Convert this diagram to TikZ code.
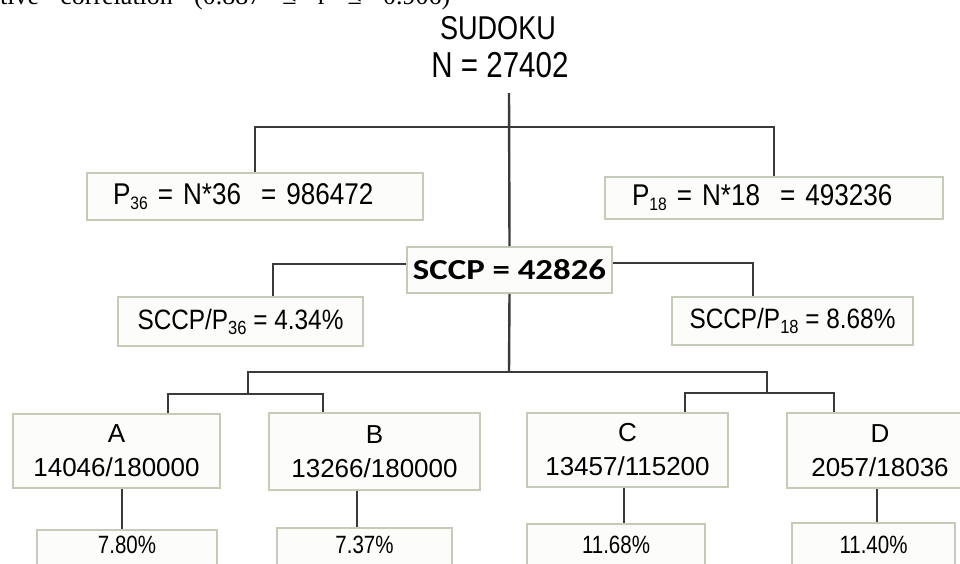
\documentclass[tikz,border=0pt]{standalone}
\usepackage{fontspec}
\setmainfont{Liberation Sans}
\newfontfamily\narrowf{Liberation Sans}[FakeStretch=0.82]
\newfontfamily\midf{Liberation Sans}[FakeStretch=0.87]
\newfontfamily\boldf{Carlito}[FakeStretch=1.2]
\newfontfamily\serifp{Liberation Serif}
\definecolor{boxc}{RGB}{196,204,184}
\definecolor{boxf}{RGB}{252,253,250}
\definecolor{linec}{RGB}{58,58,58}
\newcommand\mysubs[2]{\raisebox{-5pt}{\fontsize{#2}{#2}\selectfont #1}}
\begin{document}
\begin{tikzpicture}[x=1pt,y=-1pt,
  box/.style={draw=boxc, line width=1.8pt, fill=boxf, rectangle, inner sep=0pt},
  conn/.style={draw=linec, line width=2.4pt},
  thinconn/.style={draw=linec, line width=1.6pt},
  ptext/.style={font=\midf\fontsize{30}{30}\selectfont},
  rtext/.style={font=\midf\fontsize{28}{28}\selectfont},
  abox/.style={box, font=\fontsize{26}{34}\selectfont, align=center},
  pbox/.style={box, anchor=north, font=\narrowf\fontsize{25}{25}\selectfont,
    text depth=40pt, inner ysep=6pt},
  ]
\useasboundingbox (0,0) rectangle (960,563);
\clip (0,0) rectangle (960,563);

% cropped line of running text at the very top
\node[anchor=base west, inner sep=0pt, font=\serifp\fontsize{26}{26}\selectfont] (frag) at (0,4)
  {\makebox[450pt][s]{tive correlation (0.887 ≤ r ≤ 0.906)}};

% title
\node[anchor=base, inner sep=0pt, font=\narrowf\fontsize{33}{33}\selectfont] (sud) at (498,39) {SUDOKU};
\node[anchor=base, inner sep=0pt, font=\narrowf\fontsize{36}{36}\selectfont] (nn) at (500,77) {N = 27402};

% first level
\node[box, ptext, minimum width=336pt, minimum height=47pt, text width=284pt, inner xsep=26pt, align=left]
  (p36) at (255,196.5) {P\mysubs{36}{18} = N*36 \ = 986472};
\node[box, ptext, minimum width=338pt, minimum height=42pt, text width=284pt, inner xsep=27pt, align=left]
  (p18) at (774,198) {P\mysubs{18}{18} = N*18 \ = 493236};

% SCCP
\node[box, font=\boldf\bfseries\fontsize{29}{29}\selectfont, minimum width=205pt, minimum height=46pt]
  (sccp) at (509.5,270) {SCCP = 42826};
\node[box, rtext, minimum width=245pt, minimum height=49pt] (r36) at (240.5,321.5)
  {SCCP/P\mysubs{36}{19} = 4.34\%};
\node[box, rtext, minimum width=241pt, minimum height=48pt] (r18) at (792.5,321)
  {SCCP/P\mysubs{18}{19} = 8.68\%};

% groups
\node[abox, minimum width=207pt, minimum height=74pt] (A) at (116.5,451) {A\\14046/180000};
\node[abox, minimum width=211pt, minimum height=77pt] (B) at (374.5,451.5) {B\\13266/180000};
\node[abox, minimum width=201pt, minimum height=74pt] (C) at (627.5,450) {C\\13457/115200};
\node[abox, minimum width=186pt, minimum height=75pt] (D) at (880,450.5) {D\\2057/18036};

% percentages
\node[pbox, text height=18pt, minimum width=180pt] (pa) at (127,529) {7.80\%};
\node[pbox, text height=20pt, minimum width=175pt] (pb) at (364.5,527) {7.37\%};
\node[pbox, text height=24pt, minimum width=178pt] (pc) at (616,523) {11.68\%};
\node[pbox, text height=25pt, minimum width=163pt] (pd) at (873.5,522) {11.40\%};

% connector helper points
\coordinate (ttop) at (509,93);
\coordinate (hj) at (509,127);
\coordinate (sl) at (273,264);
\coordinate (sr) at (753,263);
\coordinate (lj) at (509,372);
\coordinate (lb) at (248,372);
\coordinate (rb) at (767,372);
\coordinate (lab) at (248,394);
\coordinate (rcd) at (767,393);
\coordinate (xa) at (168,394);
\coordinate (xb) at (323,394);
\coordinate (xc) at (685,393);
\coordinate (xd) at (834,393);
\coordinate (va) at (122,0);
\coordinate (vb) at (357,0);
\coordinate (vc) at (624,0);
\coordinate (vd) at (877,0);

% connectors
\draw[conn] (ttop) -- (sccp.north);
\draw[conn] (p36.north) -- (p36.north |- hj) -- (p18.north |- hj) -- (p18.north);
\draw[thinconn] (sccp.west |- sl) -- (sl) -- (sl |- r36.north);
\draw[thinconn] (sccp.east |- sr) -- (sr) -- (sr |- r18.north);
\draw[conn] (sccp.south) -- (lj);
\draw[conn] (lab) -- (lb) -- (rb) -- (rcd);
\draw[conn] (A.north -| xa) -- (xa) -- (xb) -- (B.north -| xb);
\draw[conn] (C.north -| xc) -- (xc) -- (xd) -- (D.north -| xd);
\draw[conn] (A.south -| va) -- (pa.north -| va);
\draw[conn] (B.south -| vb) -- (pb.north -| vb);
\draw[conn] (C.south -| vc) -- (pc.north -| vc);
\draw[conn] (D.south -| vd) -- (pd.north -| vd);
\end{tikzpicture}
\end{document}
